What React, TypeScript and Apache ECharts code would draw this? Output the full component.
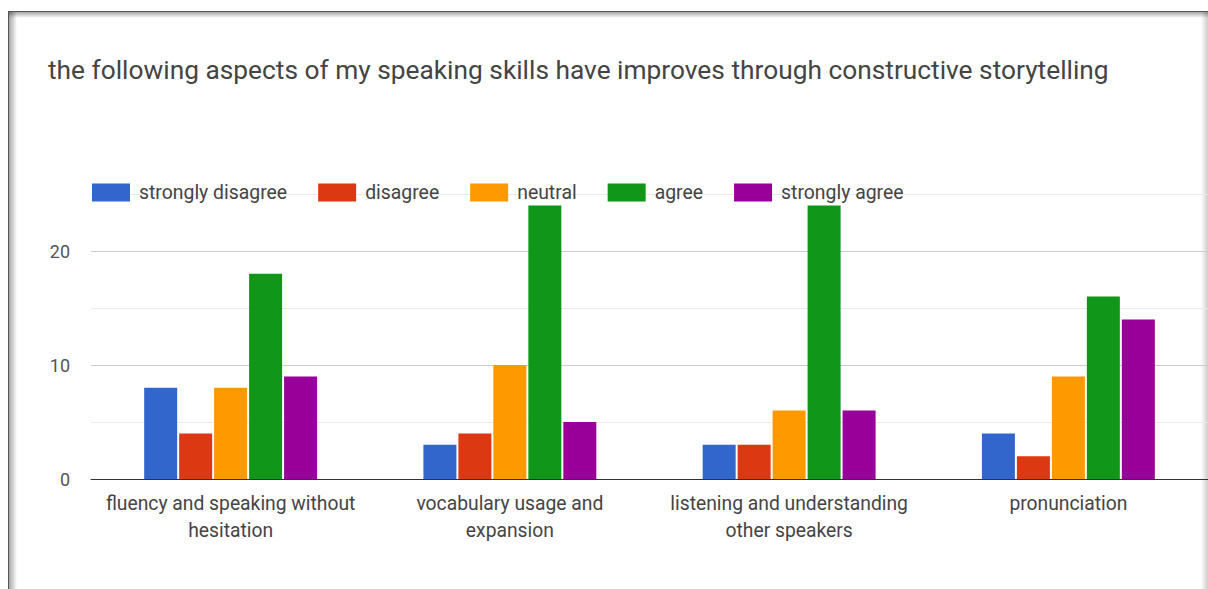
import React, { useEffect, useRef } from "react";
import * as echarts from "echarts";

const titleText =
  "the following aspects of my speaking skills have improves through constructive storytelling";
const categories = [
  "fluency and speaking without\nhesitation",
  "vocabulary usage and\nexpansion",
  "listening and understanding\nother speakers",
  "pronunciation",
];
const seriesNames = ["strongly disagree", "disagree", "neutral", "agree", "strongly agree"];
const stronglyDisagree = [8, 3, 3, 4];
const disagree = [4, 4, 3, 2];
const neutral = [8, 10, 6, 9];
const agree = [18, 24, 24, 16];
const stronglyAgree = [9, 5, 6, 14];
const colors = ["#3366cc", "#dc3912", "#ff9900", "#109618", "#990099"];

export default function App() {
  const ref = useRef<HTMLDivElement>(null);
  useEffect(() => {
    const chart = echarts.init(ref.current!, null, { renderer: "svg" });
    const values = [stronglyDisagree, disagree, neutral, agree, stronglyAgree];
    chart.setOption({
      animation: false,
      backgroundColor: "#ffffff",
      color: colors,
      textStyle: { fontFamily: "Roboto, Arial, sans-serif" },
      title: {
        text: titleText,
        left: 43,
        top: 52,
        textStyle: { fontSize: 26.3, fontWeight: "normal", color: "#444", fontFamily: "Roboto, Arial, sans-serif" },
      },
      legend: {
        left: 87,
        top: 178,
        itemWidth: 38,
        itemHeight: 18,
        itemGap: 31,
        icon: "rect",
        textStyle: { fontSize: 19.4, color: "#444", padding: [0, 0, 0, 4] },
        data: seriesNames,
      },
      grid: { left: 91, top: 194, width: 1120, height: 285, containLabel: false },
      xAxis: {
        type: "category",
        data: categories,
        axisLine: { lineStyle: { color: "#333", width: 1 } },
        axisTick: { show: false },
        axisLabel: { fontSize: 19.3, color: "#444", margin: 11, lineHeight: 27, interval: 0 },
      },
      yAxis: {
        type: "value",
        min: 0,
        max: 25,
        interval: 5,
        axisLine: { show: false },
        axisTick: { show: false },
        axisLabel: {
          fontSize: 18,
          color: "#555",
          margin: 21,
          formatter: (v: number) => (v % 10 === 0 ? String(v) : ""),
        },
        splitLine: { lineStyle: { color: ["#cccccc", "#ebebeb"], width: 1 } },
      },
      series: seriesNames.map((name, i) => ({
        name,
        type: "bar",
        data: values[i],
        barWidth: 33,
        barGap: "6%",
        itemStyle: { color: colors[i] },
      })),
      graphic: [
        {
          type: "rect",
          shape: { x: 9, y: 12, width: 8, height: 600 },
          style: {
            fill: new echarts.graphic.LinearGradient(0, 0, 1, 0, [
              { offset: 0, color: "rgba(0,0,0,0.35)" },
              { offset: 1, color: "rgba(0,0,0,0)" },
            ]),
          },
          silent: true,
        },
        {
          type: "rect",
          shape: { x: 9, y: 12, width: 1200, height: 6 },
          style: {
            fill: new echarts.graphic.LinearGradient(0, 0, 0, 1, [
              { offset: 0, color: "rgba(0,0,0,0.35)" },
              { offset: 1, color: "rgba(0,0,0,0)" },
            ]),
          },
          silent: true,
        },
        {
          type: "rect",
          shape: { x: 1201, y: 12, width: 7, height: 600 },
          style: {
            fill: new echarts.graphic.LinearGradient(0, 0, 1, 0, [
              { offset: 0, color: "rgba(0,0,0,0)" },
              { offset: 1, color: "rgba(0,0,0,0.2)" },
            ]),
          },
          silent: true,
        },
        {
          type: "line",
          shape: { x1: 8.5, y1: 11, x2: 8.5, y2: 589 },
          style: { stroke: "#555", lineWidth: 1 },
          silent: true,
        },
        {
          type: "line",
          shape: { x1: 8, y1: 11.5, x2: 1208, y2: 11.5 },
          style: { stroke: "#555", lineWidth: 1 },
          silent: true,
        },
      ],
    });
    return () => chart.dispose();
  }, []);
  return (
    <div
      ref={ref}
      style={{ position: "absolute", left: 0, top: 0, width: 1208, height: 589 }}
    />
  );
}
